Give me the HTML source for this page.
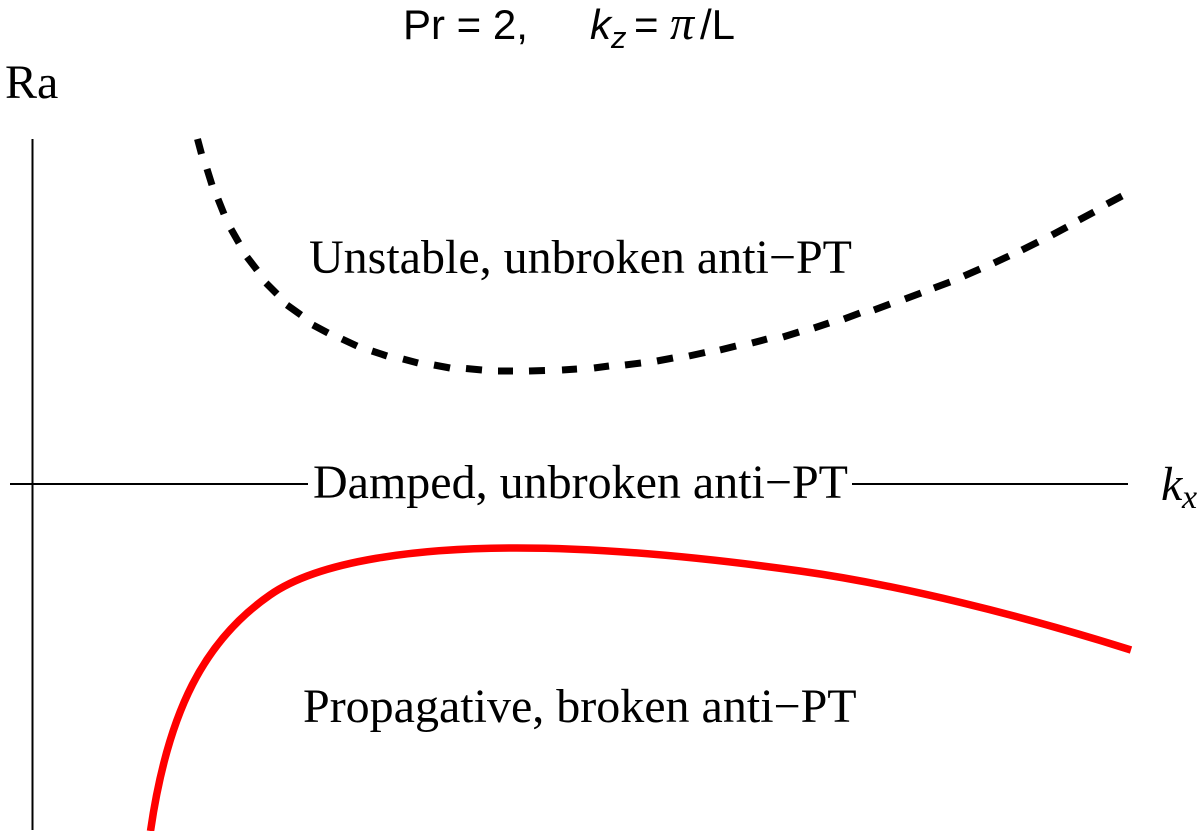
<!DOCTYPE html>
<html>
<head>
<meta charset="utf-8">
<style>
html,body{margin:0;padding:0;background:#fff;width:1200px;height:831px;overflow:hidden}
svg{display:block}
.s{font-family:"Liberation Serif",serif;font-size:48px;fill:#000}
.a{font-family:"Liberation Sans",sans-serif;font-size:42px;fill:#000}
</style>
</head>
<body>
<svg width="1200" height="831" viewBox="0 0 1200 831" xmlns="http://www.w3.org/2000/svg">
<rect width="1200" height="831" fill="#fff"/>
<g stroke="#000" stroke-width="2" fill="none">
<line x1="32.5" y1="139" x2="32.5" y2="830"/>
<line x1="10" y1="484" x2="308" y2="484"/>
<line x1="852" y1="484" x2="1128" y2="484"/>
</g>
<path d="M150.5,831 C168,710 205,640 270,595 C320,560 420,548 517,548 C600,548 700,557 800,571 C900,585 1020,615 1131,650" fill="none" stroke="#f00" stroke-width="7.5"/>
<g stroke="#000" stroke-width="7" fill="none">
<line x1="197.5" y1="139" x2="201.5" y2="154"/>
<line x1="207" y1="169" x2="212" y2="185"/>
<line x1="218" y1="199" x2="224" y2="214"/>
<line x1="231" y1="229" x2="239" y2="243"/>
<line x1="247" y1="257" x2="257" y2="270"/>
<line x1="266" y1="283" x2="277" y2="294"/>
<line x1="287" y1="305" x2="301" y2="315"/>
<line x1="313" y1="325" x2="328" y2="333"/>
<line x1="342" y1="339" x2="357" y2="346"/>
<line x1="372" y1="351" x2="387" y2="356"/>
<line x1="403" y1="359" x2="418" y2="363"/>
<line x1="434" y1="365" x2="450" y2="368"/>
<line x1="466" y1="368.5" x2="482" y2="370"/>
<line x1="498" y1="371" x2="513" y2="371"/>
<line x1="529" y1="371" x2="545" y2="370.5"/>
<line x1="562" y1="370" x2="577" y2="369"/>
<line x1="594" y1="368" x2="609" y2="366"/>
<line x1="625" y1="365" x2="641" y2="363"/>
<line x1="657" y1="361" x2="673" y2="358"/>
<line x1="689" y1="356" x2="705" y2="352.5"/>
<line x1="720" y1="350" x2="736" y2="346"/>
<line x1="752" y1="343" x2="767" y2="339"/>
<line x1="783" y1="337" x2="799" y2="332"/>
<line x1="814" y1="328" x2="829" y2="323"/>
<line x1="844" y1="319" x2="860" y2="313"/>
<line x1="874" y1="310" x2="890" y2="304"/>
<line x1="905" y1="299" x2="921" y2="293"/>
<line x1="934" y1="288" x2="950" y2="282"/>
<line x1="964" y1="276" x2="980" y2="269"/>
<line x1="994" y1="263" x2="1009" y2="256"/>
<line x1="1022" y1="250" x2="1038" y2="242"/>
<line x1="1052" y1="235" x2="1067" y2="227"/>
<line x1="1079" y1="220" x2="1094" y2="212"/>
<line x1="1107" y1="204" x2="1122" y2="196"/>
</g>
<text class="a" x="403" y="39">Pr = 2,</text>
<text class="a" x="590" y="39" font-style="italic">k</text>
<text class="a" x="611" y="48" font-style="italic" style="font-size:31px">z</text>
<text class="a" x="634" y="39">=</text>
<text class="s" x="670" y="39" font-style="italic" style="font-size:48px">π</text>
<text class="a" x="700" y="39">/L</text>
<text class="s" x="5" y="98">Ra</text>
<text class="s" x="309" y="273">Unstable, unbroken anti−PT</text>
<text class="s" x="313" y="498">Damped, unbroken anti−PT</text>
<text class="s" x="303" y="722">Propagative, broken anti−PT</text>
<text class="s" x="1161" y="500" font-style="italic">k</text>
<text class="s" x="1182" y="508" font-style="italic" style="font-size:34px">x</text>
</svg>
</body>
</html>
